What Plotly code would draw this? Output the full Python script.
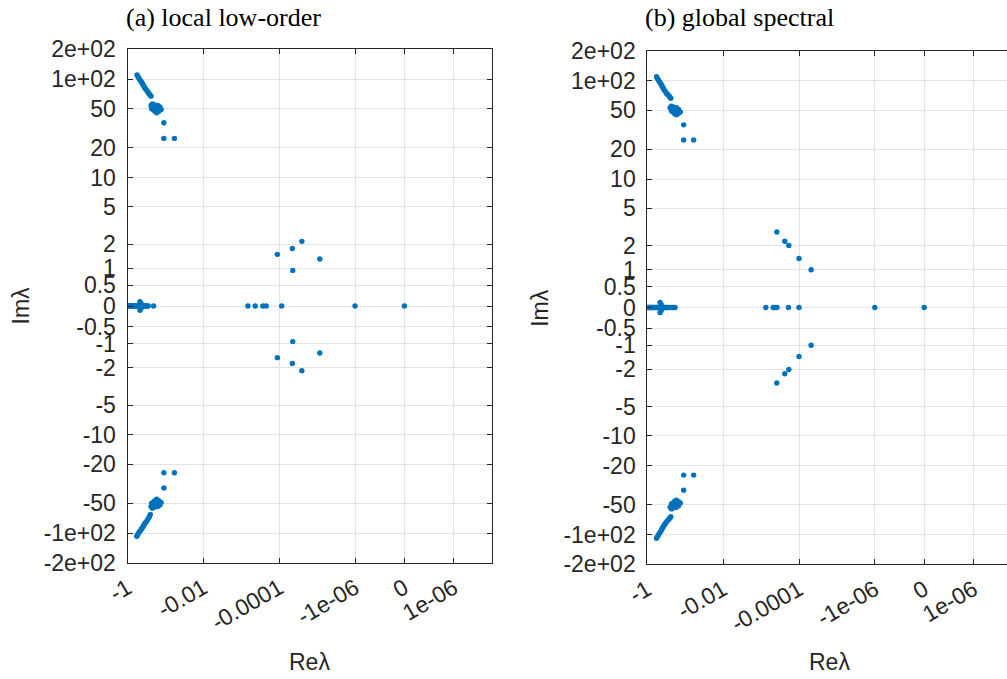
import numpy as np
import plotly.graph_objects as go

# ---------------- tick definitions ----------------
x_tick_values = [-1, -0.01, -1e-4, -1e-6, 0, 1e-6]
x_tick_labels = ["-1", "-0.01", "-0.0001", "-1e-06", "0", "1e-06"]
y_tick_values = [-200, -100, -50, -20, -10, -5, -2, -1, -0.5, 0,
                 0.5, 1, 2, 5, 10, 20, 50, 100, 200]
y_tick_labels = ["-2e+02", "-1e+02", "-50", "-20", "-10", "-5", "-2", "-1", "-0.5", "0",
                 "0.5", "1", "2", "5", "10", "20", "50", "1e+02", "2e+02"]
x_limits = [-1, 1e-5]
y_limits = [-200, 200]
X_LIN = 1e-7   # linear threshold of the asinh (symlog-like) Re axis
Y_LIN = 1.0    # linear threshold of the asinh Im axis

titles = ["(a) local low-order", "(b) global spectral"]

# ---------------- eigenvalues, panel (a) ----------------
eig_a_real = [-0.97, -0.93, -0.89, -0.85, -0.81, -0.77, -0.73, -0.69, -0.65, -0.61,
              -0.58, -0.55, -0.52, -0.50, -0.48, -0.46, -0.44, -0.42, -0.40, -0.38,
              -0.36, -0.34, -0.32, -0.30, -0.285, -0.205,
              -6.7e-4, -4.3e-4, -2.7e-4, -2.2e-4, -8.6e-5, -1.0e-6, 0.0]
eig_a_complex = [
    # small imaginary parts near the real axis
    -0.47+0.10j, -0.47-0.10j, -0.44+0.06j, -0.44-0.06j,
    # upper branch
    -0.56+110j, -0.53+106j, -0.50+102j, -0.47+98j, -0.445+95j, -0.42+92j, -0.40+89j,
    -0.38+86j, -0.36+83j, -0.34+80j, -0.32+78j, -0.30+75j, -0.285+73j, -0.27+71j,
    -0.255+69j, -0.24+67j,
    -0.24+54j, -0.22+56j, -0.20+55j, -0.18+53j, -0.16+54j, -0.14+52j, -0.13+49j,
    -0.15+47j, -0.17+45.5j, -0.19+47j, -0.21+49j, -0.23+50j, -0.20+51j, -0.17+49j,
    -0.15+50j,
    -0.11+36j, -0.11+25j, -0.058+25j,
    # lower branch
    -0.57-108j, -0.54-104j, -0.51-100j, -0.48-97j, -0.45-94j, -0.43-91j, -0.40-88j,
    -0.38-85j, -0.36-82j, -0.34-79j, -0.32-77j, -0.30-74j, -0.28-71j, -0.265-68j,
    -0.25-65j,
    -0.24-54j, -0.22-56j, -0.20-55j, -0.18-53j, -0.16-54j, -0.14-52j, -0.13-49j,
    -0.15-47j, -0.17-45.5j, -0.19-47j, -0.21-49j, -0.23-50j, -0.20-51j, -0.17-49j,
    -0.15-50j,
    -0.11-35j, -0.11-24.5j, -0.058-24.5j,
    # slow modes
    -2.53e-5+2.15j, -2.53e-5-2.15j, -4.5e-5+1.78j, -4.5e-5-1.78j,
    -1.12e-4+1.52j, -1.12e-4-1.52j, -8.5e-6+1.33j, -8.5e-6-1.33j,
    -4.4e-5+0.93j, -4.4e-5-0.93j,
]

# ---------------- eigenvalues, panel (b) ----------------
eig_b_real = [-0.97, -0.93, -0.89, -0.85, -0.81, -0.77, -0.73, -0.69, -0.65, -0.61,
              -0.58, -0.55, -0.52, -0.50, -0.48, -0.46, -0.44, -0.42, -0.40, -0.38,
              -0.36, -0.34, -0.32, -0.30, -0.28, -0.25, -0.22, -0.20, -0.185,
              -7.5e-4, -4.8e-4, -4.3e-4, -3.8e-4, -1.9e-4, -1.0e-4, -1.0e-6, 0.0]
eig_b_complex = [
    -0.46+0.12j, -0.46-0.12j, -0.43+0.07j, -0.43-0.07j,
    # upper branch
    -0.57+109j, -0.54+105j, -0.51+101j, -0.48+97j, -0.45+94j, -0.43+91j, -0.41+88j,
    -0.39+85j, -0.37+82j, -0.35+79j, -0.33+77j, -0.31+74j, -0.29+72j, -0.27+70j,
    -0.255+68j, -0.24+66j,
    -0.25+53j, -0.23+55j, -0.21+54j, -0.19+52j, -0.17+53j, -0.15+51j, -0.135+48j,
    -0.15+46.5j, -0.17+45j, -0.19+46j, -0.21+48j, -0.23+49j, -0.20+50j, -0.17+48j,
    -0.15+49j,
    -0.11+35.5j, -0.11+25j, -0.060+25j,
    # lower branch
    -0.57-109j, -0.54-105j, -0.51-101j, -0.48-97j, -0.45-94j, -0.43-91j, -0.41-88j,
    -0.39-85j, -0.37-82j, -0.35-79j, -0.33-77j, -0.31-74j, -0.29-72j, -0.27-70j,
    -0.255-68j, -0.24-66j,
    -0.25-53j, -0.23-55j, -0.21-54j, -0.19-52j, -0.17-53j, -0.15-51j, -0.135-48j,
    -0.15-46.5j, -0.17-45j, -0.19-46j, -0.21-48j, -0.23-49j, -0.20-50j, -0.17-48j,
    -0.15-49j,
    -0.11-35.5j, -0.11-25j, -0.060-25j,
    # slow modes
    -3.85e-4+2.83j, -3.85e-4-2.83j, -2.37e-4+2.24j, -2.37e-4-2.24j,
    -1.86e-4+2.01j, -1.86e-4-2.01j, -1.0e-4+1.41j, -1.0e-4-1.41j,
    -4.8e-5+1.0j, -4.8e-5-1.0j,
]


def tx(v):
    return np.arcsinh(np.asarray(v, dtype=float) / X_LIN)


def ty(v):
    return np.arcsinh(np.asarray(v, dtype=float) / Y_LIN)


W, H = 1007, 679
BLUE = "#0072BD"
AX = "#262626"
GRID = "#e3e3e3"

# plot-box pixel geometry (left, right, top, bottom)
boxes = [(127.5, 491.7, 49.3, 562.7), (647.3, 1007.0, 50.8, 564.2)]

fig = go.Figure()

panels = [(eig_a_real, eig_a_complex), (eig_b_real, eig_b_complex)]
for i, (reals, comps) in enumerate(panels):
    re = list(reals) + [z.real for z in comps]
    im = [0.0] * len(reals) + [z.imag for z in comps]
    sfx = "" if i == 0 else str(i + 1)
    fig.add_trace(go.Scatter(
        x=tx(re), y=ty(im), mode="markers",
        marker=dict(color=BLUE, size=5.4, line=dict(width=0)),
        customdata=np.stack([re, im], axis=1),
        hovertemplate="Re=%{customdata[0]:.3g}<br>Im=%{customdata[1]:.3g}<extra></extra>",
        xaxis="x" + sfx, yaxis="y" + sfx, showlegend=False))

# pixel scale of the Re axis in the first panel, reused for the (cut off) second one
x_full = [float(tx(x_limits[0])), float(tx(x_limits[1]))]
scale = (boxes[0][1] - boxes[0][0]) / (x_full[1] - x_full[0])
x_ranges = [x_full, [x_full[0], x_full[0] + (boxes[1][1] - boxes[1][0]) / scale]]

tick_font = dict(family="Liberation Sans, Arial, sans-serif", size=23, color=AX)
layout = dict(width=W, height=H, margin=dict(l=0, r=0, t=0, b=0, autoexpand=False),
              paper_bgcolor="white", plot_bgcolor="white", showlegend=False,
              font=dict(family="Liberation Sans, Arial, sans-serif", color=AX))
annotations = []
for i, (l, r, t, b) in enumerate(boxes):
    sfx = "" if i == 0 else str(i + 1)
    xd = [l / W, min(r / W, 1.0)]
    yd = [1 - b / H, 1 - t / H]
    layout["xaxis" + sfx] = dict(
        domain=xd, range=x_ranges[i], anchor="y" + sfx, automargin=False,
        tickmode="array", tickvals=list(tx(x_tick_values)), ticktext=x_tick_labels,
        tickangle=-30, tickfont=tick_font, ticks="inside", ticklen=5, tickcolor=AX,
        showline=True, linecolor=AX, linewidth=1, mirror="ticks",
        showgrid=True, gridcolor=GRID, gridwidth=1, zeroline=False,
        ticklabelstandoff=2)
    layout["yaxis" + sfx] = dict(
        domain=yd, range=[float(ty(y_limits[0])), float(ty(y_limits[1]))],
        anchor="x" + sfx, automargin=False,
        tickmode="array", tickvals=list(ty(y_tick_values)), ticktext=y_tick_labels,
        tickfont=tick_font, ticks="inside", ticklen=5, tickcolor=AX,
        showline=True, linecolor=AX, linewidth=1, mirror=("ticks" if i == 0 else False),
        showgrid=True, gridcolor=GRID, gridwidth=1, zeroline=False,
        ticklabelstandoff=6)
    annotations.append(dict(
        text=titles[i], xref="paper", yref="paper",
        x=(l - 4) / W, y=1 - 1 / H, xanchor="left", yanchor="top", showarrow=False,
        font=dict(family="Liberation Serif, Times New Roman, serif", size=26, color="black")))
    annotations.append(dict(
        text="Re\u03bb", xref="paper", yref="paper",
        x=(l + (boxes[0][1] - boxes[0][0]) / 2) / W,
        y=1 - 662 / H, xanchor="center", yanchor="middle", showarrow=False,
        font=dict(family="Liberation Sans, Arial, sans-serif", size=23, color=AX)))
    annotations.append(dict(
        text="Im\u03bb", xref="paper", yref="paper",
        x=(l - 107) / W, y=1 - ((t + b) / 2) / H, xanchor="center", yanchor="middle",
        textangle=-90, showarrow=False,
        font=dict(family="Liberation Sans, Arial, sans-serif", size=23, color=AX)))

layout["annotations"] = annotations
fig.update_layout(**layout)
fig.write_html("out.html")
